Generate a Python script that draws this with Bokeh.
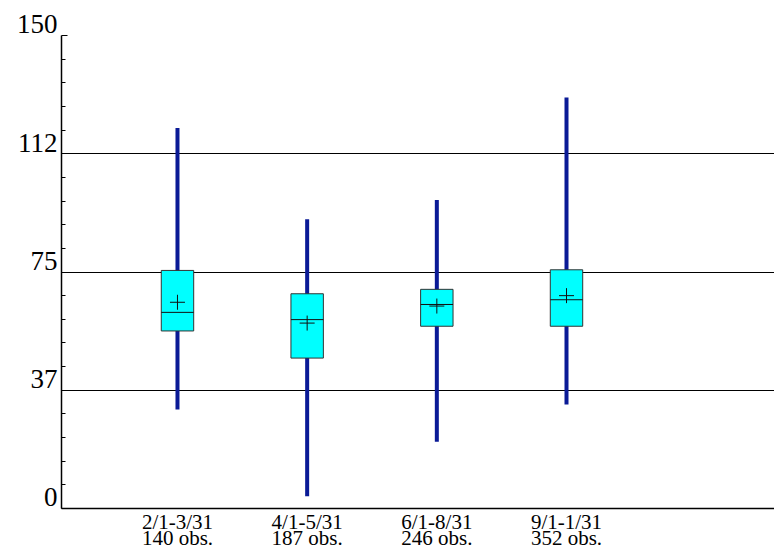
from bokeh.plotting import figure
from bokeh.models import FixedTicker, ColumnDataSource, Range1d
from bokeh.embed import file_html
from bokeh.resources import INLINE

# ---- data ----
periods = ["2/1-3/31", "4/1-5/31", "6/1-8/31", "9/1-1/31"]
obs = ["140 obs.", "187 obs.", "246 obs.", "352 obs."]
low = [31.4, 3.9, 21.2, 33.0]
q1 = [56.3, 47.7, 57.8, 57.8]
median = [62.2, 59.9, 64.7, 66.2]
q3 = [75.5, 68.1, 69.5, 75.7]
high = [120.7, 91.7, 97.8, 130.3]
mean = [65.4, 58.8, 64.2, 67.5]
y_tick_values = [0, 37.5, 75, 112.5, 150]
y_tick_labels = ["0", "37", "75", "112", "150"]
y_minor_values = [7.5, 15, 22.5, 30, 45, 52.5, 60, 67.5, 82.5, 90, 97.5, 105,
                  120, 127.5, 135, 142.5]

xpos = list(range(1, len(periods) + 1))
box_w = 0.25

src = ColumnDataSource(dict(x=xpos, low=low, q1=q1, med=median, q3=q3,
                            high=high, mean=mean,
                            xl=[v - box_w / 2 for v in xpos],
                            xr=[v + box_w / 2 for v in xpos]))

p = figure(width=774, height=552, output_backend="svg", toolbar_location=None,
           x_range=Range1d(0.1056, 5.604), y_range=Range1d(0, 150),
           min_border_left=61, min_border_right=0, min_border_top=35,
           min_border_bottom=44)
p.outline_line_color = None
p.background_fill_color = "white"
p.border_fill_color = "white"

# y axis (labels sit just above their tick, as in the original)
p.yaxis.ticker = FixedTicker(ticks=y_tick_values, minor_ticks=y_minor_values)
p.yaxis.major_label_overrides = {v: t + "\n" for v, t in zip(y_tick_values, y_tick_labels)}
p.yaxis.major_label_text_font = "Liberation Serif"
p.yaxis.major_label_text_font_size = "27px"
p.yaxis.major_label_text_line_height = 0.74
p.yaxis.major_label_text_color = "black"
p.yaxis.major_label_standoff = 4
p.yaxis.major_tick_in = 6
p.yaxis.major_tick_out = 0
p.yaxis.minor_tick_in = 4
p.yaxis.minor_tick_out = 0
p.yaxis.axis_line_color = "black"
p.yaxis.axis_line_width = 1.5
p.yaxis.major_tick_line_color = "black"
p.yaxis.minor_tick_line_color = "black"

# x axis
p.xaxis.ticker = FixedTicker(ticks=xpos)
p.xaxis.major_label_overrides = {x: f"{a}\n{b}" for x, a, b in zip(xpos, periods, obs)}
p.xaxis.major_label_text_font = "Liberation Serif"
p.xaxis.major_label_text_font_size = "21px"
p.xaxis.major_label_text_color = "black"
p.xaxis.major_label_text_line_height = 0.68
p.xaxis.major_label_standoff = 1
p.xaxis.major_tick_in = 0
p.xaxis.major_tick_out = 0
p.xaxis.minor_tick_line_color = None
p.xaxis.axis_line_color = "black"
p.xaxis.axis_line_width = 1.5

# grid
p.xgrid.visible = False
p.ygrid.ticker = FixedTicker(ticks=y_tick_values)
p.ygrid.grid_line_color = "black"
p.ygrid.grid_line_width = 1

# whiskers
p.segment(x0="x", y0="low", x1="x", y1="high", source=src,
          line_color="#0A1A96", line_width=4)
# boxes
p.quad(left="xl", right="xr", bottom="q1", top="q3", source=src,
       fill_color="#00FFFF", line_color="#333333", line_width=1)
# medians
p.segment(x0="xl", y0="med", x1="xr", y1="med", source=src,
          line_color="#111111", line_width=1)
# means
p.scatter(x="x", y="mean", source=src, marker="cross", size=15,
          line_color="#111111", line_width=1)

open("out.html", "w").write(file_html(p, INLINE))
